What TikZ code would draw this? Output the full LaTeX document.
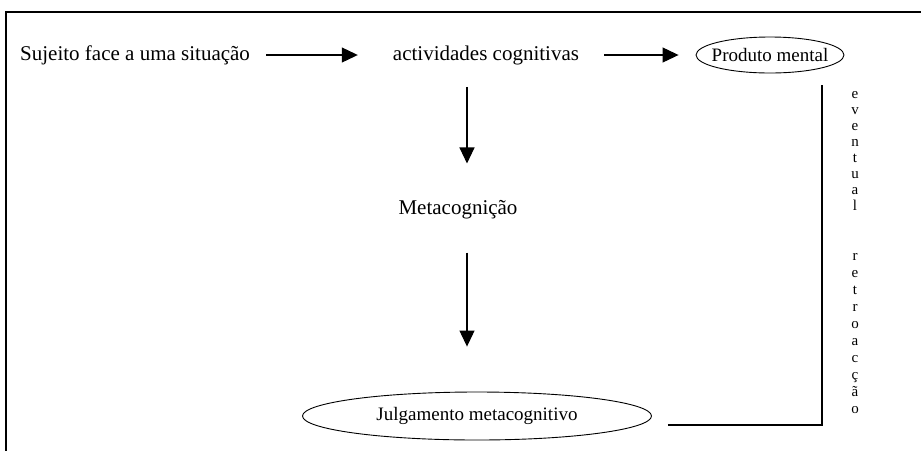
\documentclass[tikz,border=0pt]{standalone}
\usepackage{fontspec}
\setmainfont{Liberation Serif}
\usetikzlibrary{arrows.meta,shapes.geometric}

\begin{document}
\begin{tikzpicture}[x=1pt,y=-1pt,
    txt/.style={inner sep=0pt,font=\fontsize{21}{25}\selectfont},
    oval/.style={ellipse,draw,line width=0.9pt,inner ysep=0pt,font=\fontsize{19}{22}\selectfont},
    seta/.style={-{Triangle[length=16pt,width=15pt]},line width=1.1pt}]
    \useasboundingbox (0,0) rectangle (921,451);

    % Moldura
    \draw[line width=1.8pt] (921,12) -- (6,12) -- (6,451);

    % Etapas
    \node[txt,anchor=west] (sujeito) at (20,55) {Sujeito face a uma situação};
    \node[txt] (activ) at (486,55) {actividades cognitivas};
    \node[oval,inner xsep=-6pt,minimum width=146pt,minimum height=36pt] (produto) at (770,55) {Produto mental};
    \node[txt] (meta) at (458,210) {Metacognição};
    \node[oval,inner xsep=0pt,minimum width=349pt,minimum height=48pt] (julg) at (477,416) {Julgamento metacognitivo};

    % Setas
    \coordinate (eixo) at (467,0);
    \draw[seta,shorten <=16pt,shorten >=35pt] (sujeito) -- (activ);
    \draw[seta,shorten <=25pt,shorten >=17pt] (activ) -- (produto);
    \draw[seta,shorten <=22pt,shorten >=37pt] (activ.south -| eixo) -- (meta.north -| eixo);
    \draw[seta,shorten <=33pt,shorten >=45pt] (meta.south -| eixo) -- (julg.north -| eixo);

    % Retroaccao
    \coordinate (retorno) at (822,85);
    \draw[line width=1.1pt] ([shift={(16,9)}]julg.east) -| (retorno);
    \node[font=\fontsize{15}{15}\selectfont,align=center,anchor=north,inner sep=0pt] (retro) at (855,91)
        {e\\[1pt]v\\[1pt]e\\[1pt]n\\[1pt]t\\[1pt]u\\[1pt]a\\[1pt]l\\[35pt]r\\[2pt]e\\[2pt]t\\[2pt]r\\[2pt]o\\[2pt]a\\[2pt]c\\[2pt]ç\\[2pt]ã\\[2pt]o};
\end{tikzpicture}
\end{document}
